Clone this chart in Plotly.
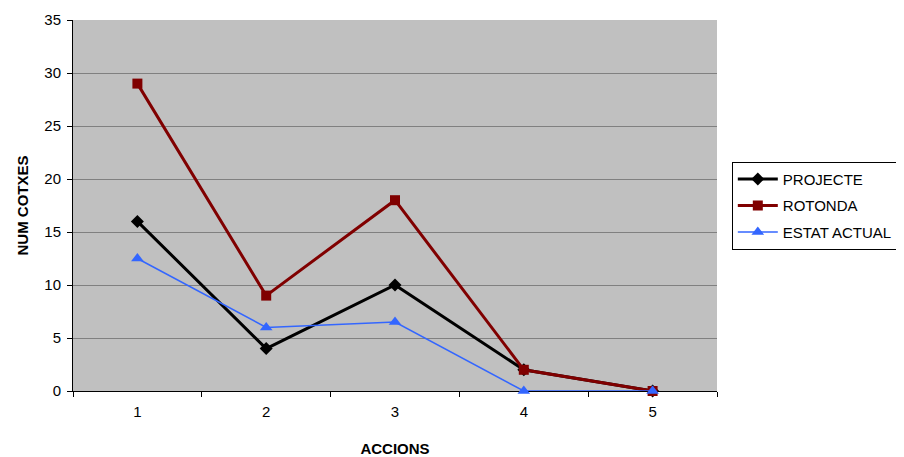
import plotly.graph_objects as go

categories = ["1", "2", "3", "4", "5"]
projecte = [16, 4, 10, 2, 0]
rotonda = [29, 9, 18, 2, 0]
estat_actual = [12.5, 6, 6.5, 0, 0]
y_ticks = [0, 5, 10, 15, 20, 25, 30, 35]

font = "Liberation Sans, Arial, sans-serif"

fig = go.Figure()
fig.add_trace(go.Scatter(x=categories, y=projecte, name="PROJECTE", mode="lines+markers",
                         legendgroup="a", cliponaxis=False,
                         line=dict(color="#000000", width=3),
                         marker=dict(symbol="diamond", size=10, color="#000000")))
fig.add_trace(go.Scatter(x=categories, y=rotonda, name="ROTONDA", mode="lines+markers",
                         legendgroup="b", cliponaxis=False,
                         line=dict(color="#800000", width=3),
                         marker=dict(symbol="square", size=10, color="#800000")))
fig.add_trace(go.Scatter(x=categories, y=estat_actual, name="ESTAT ACTUAL", mode="lines+markers",
                         legendgroup="c", cliponaxis=False,
                         line=dict(color="#3366FF", width=1.5),
                         marker=dict(symbol="triangle-up", size=11, color="#3366FF")))

# page body has an 8px margin, so the figure is sized and offset accordingly
fig.update_layout(
    width=896, height=449,
    margin=dict(l=65, r=187, t=12, b=66, autoexpand=False),
    paper_bgcolor="white",
    plot_bgcolor="#C0C0C0",
    font=dict(family=font, size=15, color="#000000"),
    legend=dict(x=1.023, xanchor="left", y=0.618, yanchor="top",
                bordercolor="#000000", borderwidth=1, bgcolor="white",
                traceorder="grouped", tracegroupgap=4, itemwidth=40,
                font=dict(family=font, size=15)),
    xaxis=dict(type="category", range=[-0.5, 4.5], tickson="boundaries", automargin=False,
               showgrid=False, zeroline=False, showline=True, linecolor="#000000", linewidth=1,
               layer="below traces",
               ticks="outside", ticklen=5, tickcolor="#000000", ticklabelstandoff=7,
               title=dict(text="<b>ACCIONS</b>", font=dict(family=font, size=15), standoff=24),
               tickfont=dict(family=font, size=15)),
    yaxis=dict(range=[0, 35], tickvals=y_ticks, showgrid=True, gridcolor="#808080", gridwidth=1,
               automargin=False, layer="below traces",
               zeroline=False, showline=True, linecolor="#000000", linewidth=1,
               ticks="outside", ticklen=5, tickcolor="#000000", ticklabelstandoff=3,
               title=dict(text="<b>NUM COTXES</b>", font=dict(family=font, size=15), standoff=12),
               tickfont=dict(family=font, size=15)),
)

fig.write_html("out.html")
